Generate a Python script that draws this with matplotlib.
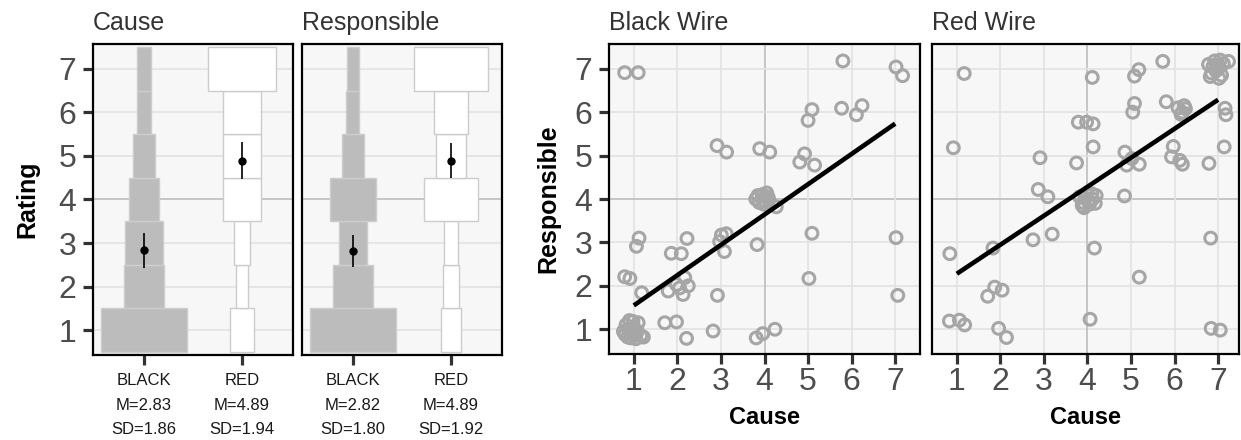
import matplotlib
matplotlib.use("Agg")
import matplotlib.pyplot as plt
import numpy as np

plt.rcParams["font.family"] = ["Liberation Sans", "DejaVu Sans"]

# ---- data ----
levels = [1, 2, 3, 4, 5, 6, 7]
groups = ["BLACK", "RED"]

# counts per rating level (drawn as widths)
cause_black = [23, 11, 10, 8, 6, 4, 4]
cause_red = [6.5, 3, 4.5, 10.5, 10.5, 10.5, 18.5]
resp_black = [23, 11, 7.5, 12.5, 6, 3.5, 3.2]
resp_red = [5.3, 4.5, 3.6, 14.5, 8.2, 9, 20]

cause_mean = [2.83, 4.89]
cause_sd = [1.86, 1.94]
cause_ci = [0.40, 0.42]
resp_mean = [2.82, 4.89]
resp_sd = [1.80, 1.92]
resp_ci = [0.37, 0.40]

# scatter: Black wire (cause, responsible)
bw_x = [0.79, 1.10, 5.80, 7.02, 7.17, 5.09, 5.00, 5.77, 6.11, 6.24,
        2.91, 3.13, 3.89, 4.12, 4.81, 4.92, 5.15, 4.27, 4.05,
        5.09, 7.02, 3.83, 3.01, 3.12, 2.97, 3.08,
        1.12, 1.06, 2.22, 1.86, 2.09, 0.79, 0.91, 1.18,
        1.79, 1.98, 2.13, 2.25, 2.17, 2.05,
        2.92, 5.02, 7.06, 1.71, 1.98, 2.21, 2.82, 3.81, 3.96, 4.24,
        0.76, 0.82, 0.86, 0.90, 0.95, 1.00, 1.05, 1.10, 1.16, 0.80,
        0.88, 0.98, 1.08, 1.22, 0.93, 1.02,
        3.80, 3.88, 3.95, 4.02, 4.08, 3.85, 3.98, 4.10]
bw_y = [6.91, 6.91, 7.18, 7.04, 6.84, 6.06, 5.81, 6.09, 5.94, 6.15,
        5.23, 5.08, 5.16, 5.08, 4.85, 5.04, 4.78, 3.82, 4.14,
        3.21, 3.11, 2.95, 3.17, 3.20, 3.02, 2.79,
        3.10, 2.91, 3.09, 2.75, 2.74, 2.21, 2.17, 1.84,
        1.88, 2.03, 1.80, 2.00, 2.19, 1.95,
        1.78, 2.17, 1.78, 1.15, 1.17, 0.79, 0.96, 0.80, 0.90, 1.00,
        0.95, 1.10, 0.82, 1.20, 0.90, 1.05, 0.78, 1.15, 0.85, 0.88,
        1.00, 1.18, 0.95, 0.82, 0.80, 0.86,
        4.00, 3.92, 4.10, 3.95, 4.05, 4.08, 3.88, 3.98]

# scatter: Red wire (cause, responsible)
rw_x = [1.17, 4.11, 5.08, 5.18, 5.73, 7.24, 5.08, 5.04, 5.81,
        6.08, 6.18, 6.25, 6.15, 6.22, 7.16, 7.18,
        3.79, 3.98, 4.13, 0.92, 4.13, 2.91, 3.75,
        4.86, 4.90, 5.02, 5.19, 5.97, 5.93, 6.12, 6.18, 6.79, 7.14,
        2.87, 3.09, 4.85, 0.84, 1.83, 2.75, 3.19, 4.16, 6.83, 5.19,
        1.71, 1.87, 2.04, 0.83, 1.06, 1.18, 1.96, 2.14, 4.06, 6.84, 7.05,
        6.78, 6.85, 6.92, 7.00, 7.08, 7.12, 6.82, 6.95, 7.05, 6.88, 7.02, 6.98,
        3.82, 3.90, 3.98, 4.05, 4.12, 4.20, 3.88, 3.95, 4.02, 4.10, 4.18, 3.92]
rw_y = [6.89, 6.80, 6.83, 6.98, 7.17, 7.17, 6.20, 6.00, 6.24,
        6.10, 6.00, 6.08, 5.95, 6.15, 6.09, 5.94,
        5.77, 5.77, 5.73, 5.18, 5.20, 4.95, 4.83,
        5.08, 4.78, 4.93, 4.80, 5.21, 4.97, 4.89, 4.80, 4.82, 5.20,
        4.22, 4.05, 4.07, 2.74, 2.87, 3.06, 3.19, 2.87, 3.10, 2.20,
        1.76, 1.97, 1.90, 1.19, 1.21, 1.10, 1.02, 0.81, 1.23, 1.02, 0.98,
        7.10, 6.90, 7.18, 7.00, 6.85, 7.12, 6.82, 6.95, 7.20, 7.05, 6.78, 7.08,
        4.05, 3.92, 4.10, 3.88, 4.00, 4.08, 3.85, 4.02, 3.95, 4.12, 3.90, 3.80]

# regression lines (intercept, slope)
bw_fit = [0.85, 0.698]
rw_fit = [1.61, 0.668]

# ---- styling ----
W, H = 1241, 440
bg = "#f7f7f7"
grid_light = "#e2e2e2"
grid_dark = "#bdbdbd"
tick_col = "#4d4d4d"
width_scale = 0.0378


def px_axes(fig, l, t, r, b):
    return fig.add_axes([l / W, 1 - b / H, (r - l) / W, (b - t) / H])


def style(ax):
    ax.set_facecolor(bg)
    for s in ax.spines.values():
        s.set_color("black")
        s.set_linewidth(1.6)
    ax.tick_params(length=7, width=2.3, color="#333333", labelsize=23,
                   labelcolor=tick_col, pad=2)
    ax.tick_params(axis="y", pad=5)
    ax.set_ylim(0.43, 7.57)
    ax.set_yticks(levels)


fig = plt.figure(figsize=(W / 100, H / 100), dpi=100)

bar_panels = [
    ("Cause", cause_black, cause_red, cause_mean, cause_sd, cause_ci, (93, 44, 293, 355)),
    ("Responsible", resp_black, resp_red, resp_mean, resp_sd, resp_ci, (302, 44, 502, 355)),
]

for i, (title, cb, cr, mean, sd, ci, box) in enumerate(bar_panels):
    ax = px_axes(fig, *box)
    style(ax)
    ax.set_xlim(0.48, 2.52)
    for lv in levels:
        ax.axhline(lv, color=grid_dark if lv == 4 else grid_light, lw=1.2, zorder=0)
    ax.bar([1] * 7, [1] * 7, width=np.array(cb) * width_scale,
           bottom=np.array(levels) - 0.5, color="#bcbcbc",
           edgecolor="#cdcdcd", linewidth=1, zorder=2)
    ax.bar([2] * 7, [1] * 7, width=np.array(cr) * width_scale,
           bottom=np.array(levels) - 0.5, color="white",
           edgecolor="#cccccc", linewidth=1, zorder=2)
    ax.errorbar([1, 2], mean, yerr=ci, fmt="o", color="black", ms=5,
                elinewidth=1.2, zorder=3)
    ax.set_xticks([1, 2])
    ax.set_xticklabels(["%s\nM=%.2f\nSD=%.2f" % (g, m, s)
                        for g, m, s in zip(groups, mean, sd)],
                       fontsize=12, color="#1a1a1a", linespacing=1.8)
    ax.tick_params(axis="x", labelsize=12, labelcolor="#1a1a1a", pad=6)
    ax.set_title(title, loc="left", fontsize=18, color="#333333", pad=10)
    if i == 0:
        ax.set_ylabel("Rating", fontsize=18, fontweight="bold", labelpad=14)
    else:
        ax.set_yticklabels([])
        ax.tick_params(axis="y", length=0)

scatter_panels = [
    ("Black Wire", bw_x, bw_y, bw_fit, (609, 44, 920, 354), 7.57),
    ("Red Wire", rw_x, rw_y, rw_fit, (932, 44, 1239, 354), 7.48),
]

for i, (title, xs, ys, fit, box, xmax) in enumerate(scatter_panels):
    ax = px_axes(fig, *box)
    style(ax)
    ax.set_xlim(0.43, xmax)
    ax.set_xticks(levels)
    for lv in levels:
        c = grid_dark if lv == 4 else grid_light
        ax.axhline(lv, color=c, lw=1.2, zorder=0)
        ax.axvline(lv, color=c, lw=1.2, zorder=0)
    ax.scatter(xs, ys, s=72, facecolors="none", edgecolors="#a6a6a6",
               linewidths=2.2, zorder=2)
    fx = np.array([1, 7])
    ax.plot(fx, fit[0] + fit[1] * fx, color="black", lw=3.3, zorder=3,
            solid_capstyle="butt")
    ax.set_title(title, loc="left", fontsize=18, color="#333333", pad=10)
    ax.set_xlabel("Cause", fontsize=17, fontweight="bold", labelpad=7)
    if i == 0:
        ax.set_ylabel("Responsible", fontsize=18, fontweight="bold", labelpad=10)
    else:
        ax.set_yticklabels([])
        ax.tick_params(axis="y", length=0)

fig.savefig("out.png", dpi=100)
